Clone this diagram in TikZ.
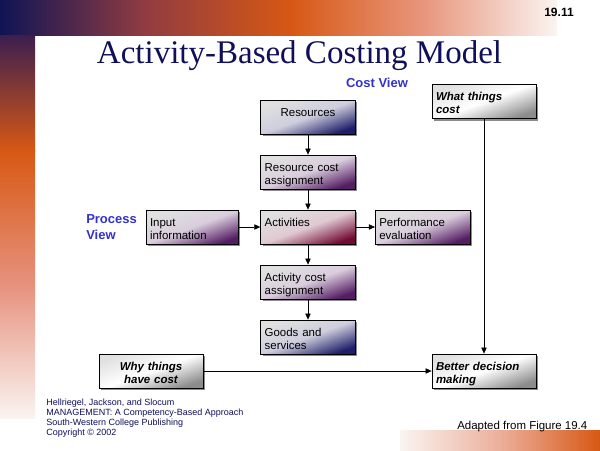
\documentclass[tikz,border=0pt]{standalone}
\usepackage{fontspec}
\setmainfont{Liberation Sans}
\newfontfamily\titlefont{Liberation Serif}
\usetikzlibrary{arrows.meta,shadows}
\definecolor{navy}{RGB}{16,16,90}
\definecolor{viewblue}{RGB}{51,51,204}
\definecolor{bandnavy}{RGB}{15,20,85}
\definecolor{bandplum}{RGB}{60,30,80}
\definecolor{bandorange}{RGB}{215,88,20}
\definecolor{bandpale}{RGB}{250,244,241}
\definecolor{boxnavy}{RGB}{30,30,105}
\definecolor{boxpurple}{RGB}{85,30,100}
\definecolor{boxred}{RGB}{115,10,50}
\definecolor{boxgrey}{RGB}{140,140,140}

\begin{document}
\begin{tikzpicture}[x=0.75pt, y=-0.75pt, node distance=41.25pt, >={Triangle[length=4.5pt,width=4pt]},
  box/.style = {draw, line width=0.6pt, top color=black!12, bottom color=#1, middle color=#1!22!white, shading angle=20,
    drop shadow={shadow xshift=1.5pt, shadow yshift=-1.5pt, fill=black!45, opacity=1},
    text width=65pt, inner xsep=3pt, inner ysep=2pt, minimum height=25.5pt, align=left,
    text height=6.5pt, text depth=8pt, font=\fontsize{8.6}{9.9}\selectfont},
  gbox/.style = {box=boxgrey, middle color=white, shading angle=20, text width=72pt,
    font=\bfseries\itshape\fontsize{8.6}{9.9}\selectfont},
  view/.style = {text=viewblue, inner sep=0pt, font=\bfseries\fontsize{9.75}{12}\selectfont}]
\useasboundingbox (0,0) rectangle (600,450);
\fill[white] (0,0) rectangle (600,450);
% bands
\shade[left color=bandnavy, right color=bandorange, middle color={rgb,255:red,145;green,60;blue,65}] (0,0) rectangle (291,35);
\shade[left color=bandorange, right color=bandpale, middle color={rgb,255:red,232;green,150;blue,125}] (290,0) rectangle (557,35);
\shade[top color=bandplum, bottom color=bandorange] (0,35) rectangle (35,151);
\shade[top color=bandorange, bottom color=bandpale, middle color={rgb,255:red,230;green,145;blue,125}] (0,150) rectangle (35,418);
\shade[left color=bandpale, right color=bandorange, middle color={rgb,255:red,236;green,175;blue,155}] (400,430) rectangle (600,450);

\node[anchor=base, text=navy, font=\titlefont\fontsize{24.75}{30}\selectfont] (title) at (299.5,63) {Activity-Based Costing Model};
\node[anchor=base, font=\bfseries\fontsize{9}{11}\selectfont] (num) at (559,16) {19.11};
\node[view, anchor=base] (costview) at (377,87) {Cost View};
\node[view, anchor=north west, align=left] (procview) at (86,214) {Process\\View};

\node[box=boxnavy, align=center] (res) at (308,117) {Resources};
\node[box=boxpurple] (rescost) [below of=res] {Resource cost\\assignment};
\node[box=boxred] (act) [below of=rescost] {Activities};
\node[box=boxpurple] (actcost) [below of=act] {Activity cost\\assignment};
\node[box=boxnavy] (goods) [below of=actcost] {Goods and\\services};
\node[box=boxpurple] (perf) [right of=act, node distance=86pt] {Performance\\evaluation};
\node[box=boxpurple, text width=63pt] (input) [left of=act, node distance=87pt] {Input\\information};

\node[gbox] (what) at (484,101.5) {What things\\cost};
\node[gbox, align=center] (why) at (151,371) {Why things\\have cost};
\node[gbox] (better) at (484,371) {Better decision\\making};

\draw[->] (res) -- (rescost);
\draw[->] (rescost) -- (act);
\draw[->] (act) -- (actcost);
\draw[->] (actcost) -- (goods);
\draw[->] (input) -- (act);
\draw[->] (act) -- (perf);
\draw[->] (what) -- (better);
\draw[->] (why) -- (better);

\node[anchor=north west, align=left, inner sep=0pt, text=navy, font=\fontsize{6.75}{7.5}\selectfont] (credit) at (46,399)
  {Hellriegel, Jackson, and Slocum\\MANAGEMENT: A Competency-Based Approach\\South-Western College Publishing\\Copyright © 2002};
\node[anchor=base west, inner sep=0pt, font=\fontsize{8.6}{10}\selectfont] (adapted) at (457,429) {Adapted from Figure 19.4};
\end{tikzpicture}
\end{document}
